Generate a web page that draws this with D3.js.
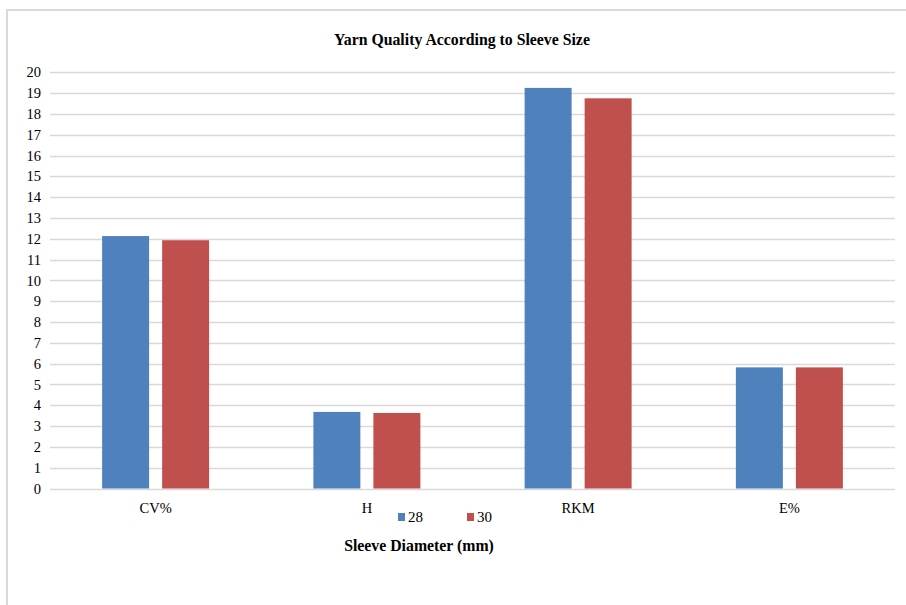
<!DOCTYPE html>
<html>
<head>
<meta charset="utf-8">
<script src="https://cdn.jsdelivr.net/npm/d3@7"></script>
<style>
  html, body { margin: 0; padding: 0; background: #fff; }
  svg { display: block; }
</style>
</head>
<body>
<svg id="chart" width="906" height="605"></svg>
<script>
// Yarn quality parameters measured for two sleeve diameters
const categories = ["CV%", "H", "RKM", "E%"];
const seriesNames = ["28", "30"];
const values28 = [12.13, 3.68, 19.25, 5.82];
const values30 = [11.93, 3.63, 18.75, 5.82];
const yTicks = d3.range(0, 21, 1);

const colors = { "28": "#4F81BD", "30": "#C0504D" };
const serif = '"Liberation Serif"';

const svg = d3.select("#chart");

// outer chart frame
svg.append("rect")
  .attr("x", 7).attr("y", 10)
  .attr("width", 920).attr("height", 620)
  .attr("fill", "#fff")
  .attr("stroke", "#d9d9d9")
  .attr("stroke-width", 2);

const plot = { left: 50, right: 895, top: 72.3, bottom: 488.5 };

const x = d3.scaleBand()
  .domain(categories)
  .range([plot.left, plot.right]);

const x1 = d3.scaleBand()
  .domain(seriesNames)
  .range([0, 107])
  .paddingInner(0.217);

const y = d3.scaleLinear()
  .domain([0, 20])
  .range([plot.bottom, plot.top]);

// horizontal gridlines
svg.append("g")
  .selectAll("line")
  .data(yTicks)
  .join("line")
  .attr("x1", plot.left).attr("x2", plot.right)
  .attr("y1", d => Math.round(y(d)) + 0.5)
  .attr("y2", d => Math.round(y(d)) + 0.5)
  .attr("stroke", "#d9d9d9")
  .attr("stroke-width", 1.3);

// y axis labels
const yAxis = d3.axisLeft(y).tickValues(yTicks).tickSize(0).tickPadding(9);
svg.append("g")
  .attr("transform", `translate(${plot.left},0)`)
  .call(yAxis)
  .call(g => g.select(".domain").remove())
  .attr("font-family", null)
  .attr("font-size", null)
  .selectAll("text")
  .style("font-family", serif)
  .style("font-size", "14.5px")
  .attr("fill", "#000");

// bars
const series = seriesNames.map((s, i) => ({
  name: s,
  values: i === 0 ? values28 : values30
}));

const groups = svg.append("g")
  .selectAll("g")
  .data(series)
  .join("g")
  .attr("fill", d => colors[d.name]);

groups.selectAll("rect")
  .data(d => d.values.map((v, i) => ({ cat: categories[i], v, s: d.name })))
  .join("rect")
  .attr("x", d => x(d.cat) + x.bandwidth() / 2 - 53.5 + x1(d.s))
  .attr("width", x1.bandwidth())
  .attr("y", d => y(d.v))
  .attr("height", d => y(0) - y(d.v));

// category labels
const xAxis = d3.axisBottom(x).tickSize(0).tickPadding(14);
svg.append("g")
  .attr("transform", `translate(0,${plot.bottom})`)
  .call(xAxis)
  .call(g => g.select(".domain").remove())
  .attr("font-family", null)
  .attr("font-size", null)
  .selectAll("text")
  .style("font-family", serif)
  .style("font-size", "14.5px")
  .attr("fill", "#000");

// title
svg.append("text")
  .attr("x", 462).attr("y", 45)
  .attr("text-anchor", "middle")
  .style("font-family", serif)
  .style("font-weight", "bold")
  .style("font-size", "15.8px")
  .attr("fill", "#000")
  .text("Yarn Quality According to Sleeve Size");

// legend
const legend = svg.append("g")
  .selectAll("g")
  .data(seriesNames)
  .join("g")
  .attr("transform", (d, i) => `translate(${398 + i * 69},513)`);
legend.append("rect")
  .attr("width", 7).attr("height", 8)
  .attr("fill", d => colors[d]);
legend.append("text")
  .attr("x", 10).attr("y", 9)
  .style("font-family", serif)
  .style("font-size", "15px")
  .attr("fill", "#000")
  .text(d => d);

// x axis title
svg.append("text")
  .attr("x", 419).attr("y", 551)
  .attr("text-anchor", "middle")
  .style("font-family", serif)
  .style("font-weight", "bold")
  .style("font-size", "15.8px")
  .attr("fill", "#000")
  .text("Sleeve Diameter (mm)");
</script>
</body>
</html>
